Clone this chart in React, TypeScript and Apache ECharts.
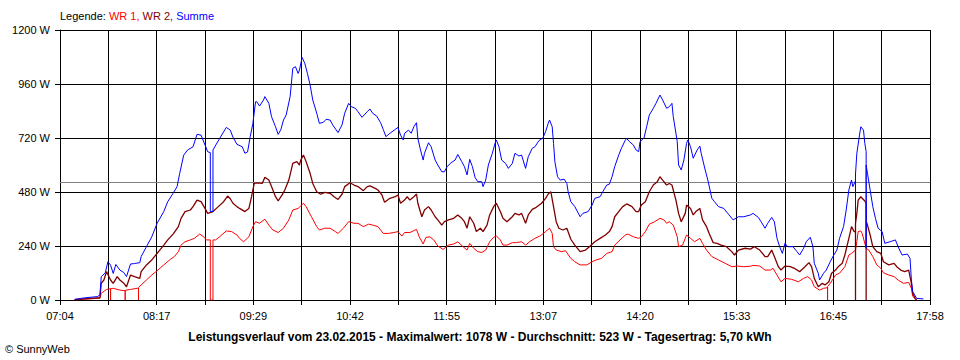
import React, { useEffect, useRef } from "react";
import * as echarts from "echarts";

const START_MIN = 424; // 07:04
const END_MIN = 1078; // 17:58
const DIVISIONS = 18;
const Y_MAX = 1200;
const Y_STEP = 240;
const AVERAGE = 523;
const TITLE = "Leistungsverlauf vom 23.02.2015 - Maximalwert: 1078 W - Durchschnitt: 523 W - Tagesertrag: 5,70 kWh";
const COPYRIGHT = "© SunnyWeb";
const seriesNames = ["WR 1", "WR 2", "Summe"];
const seriesColors = ["#ff0000", "#800000", "#0000ff"];

const summe: [string, number][] = [
  ["07:15",3],["07:23",10],["07:32",15],["07:34",22],["07:35",104],["07:38",120],["07:40",170],["07:42",155],["07:44",118],["07:46",158],["07:49",133],["07:52",122],["07:54",104],["07:57",160],["08:00",162],["08:04",166],["08:05",193],["08:09",237],["08:13",281],["08:17",341],["08:22",393],["08:25",437],["08:29",474],["08:32",504],["08:34",563],["08:37",644],["08:40",667],["08:44",681],["08:47",736],["08:50",733],["08:53",689],["08:55",659],["08:57",655],["08:57",393],["08:59",393],["08:59",667],["09:04",718],["09:09",767],["09:12",755],["09:14",724],["09:17",692],["09:21",681],["09:23",652],["09:25",658],["09:27",726],["09:29",785],["09:31",881],["09:32",881],["09:34",862],["09:37",889],["09:38",904],["09:41",874],["09:43",815],["09:46",770],["09:48",736],["09:50",757],["09:52",800],["09:54",822],["09:57",904],["09:59",1030],["10:01",1037],["10:03",1007],["10:04",1022],["10:06",1078],["10:08",1052],["10:10",1007],["10:12",956],["10:14",889],["10:17",830],["10:19",785],["10:22",790],["10:24",803],["10:27",800],["10:29",778],["10:33",744],["10:36",778],["10:38",830],["10:41",874],["10:43",859],["10:46",852],["10:48",837],["10:51",812],["10:55",837],["10:57",849],["10:59",830],["11:02",818],["11:05",788],["11:07",758],["11:09",726],["11:12",741],["11:16",758],["11:18",767],["11:20",733],["11:22",711],["11:23",741],["11:26",755],["11:28",741],["11:30",770],["11:32",788],["11:33",718],["11:35",667],["11:37",622],["11:38",652],["11:41",699],["11:43",681],["11:46",622],["11:48",600],["11:51",570],["11:53",570],["11:55",593],["11:58",610],["12:01",622],["12:03",647],["12:06",615],["12:08",593],["12:10",556],["12:12",625],["12:14",593],["12:16",545],["12:18",526],["12:21",526],["12:22",504],["12:24",533],["12:26",600],["12:29",652],["12:31",696],["12:32",711],["12:34",681],["12:36",622],["12:39",607],["12:41",585],["12:44",607],["12:46",652],["12:49",640],["12:51",644],["12:54",585],["12:56",637],["12:59",674],["13:01",681],["13:04",708],["13:07",720],["13:09",748],["13:11",785],["13:12",800],["13:14",770],["13:15",696],["13:16",615],["13:18",548],["13:20",533],["13:23",537],["13:25",518],["13:26",481],["13:28",437],["13:31",415],["13:35",370],["13:37",385],["13:41",393],["13:44",422],["13:46",452],["13:50",459],["13:52",481],["13:55",511],["13:57",515],["13:59",548],["14:01",593],["14:04",644],["14:06",674],["14:09",711],["14:10",718],["14:12",704],["14:15",689],["14:17",667],["14:19",659],["14:20",704],["14:23",720],["14:25",770],["14:27",822],["14:30",852],["14:32",874],["14:35",911],["14:37",889],["14:40",852],["14:42",859],["14:44",874],["14:45",815],["14:48",704],["14:49",600],["14:51",578],["14:53",622],["14:55",696],["14:56",711],["14:58",681],["15:00",630],["15:03",667],["15:05",684],["15:06",652],["15:09",578],["15:11",533],["15:14",452],["15:16",437],["15:19",415],["15:23",407],["15:26",385],["15:30",356],["15:34",370],["15:38",370],["15:43",378],["15:45",385],["15:49",367],["15:51",348],["15:54",319],["15:56",341],["15:59",367],["16:01",348],["16:03",274],["16:05",237],["16:07",207],["16:09",252],["16:11",237],["16:15",237],["16:18",215],["16:20",200],["16:23",230],["16:25",259],["16:28",279],["16:30",237],["16:31",163],["16:34",119],["16:35",89],["16:38",119],["16:40",133],["16:43",170],["16:45",193],["16:48",222],["16:50",274],["16:53",326],["16:55",400],["16:57",489],["16:59",533],["17:00",504],["17:02",530],["17:02",222],["17:02",560],["17:03",652],["17:05",733],["17:06",770],["17:08",755],["17:09",696],["17:10",660],["17:10",230],["17:10",600],["17:11",563],["17:13",489],["17:15",415],["17:17",363],["17:19",319],["17:22",304],["17:24",252],["17:28",259],["17:32",267],["17:34",237],["17:37",200],["17:41",204],["17:43",185],["17:44",89],["17:45",37],["17:48",7],["17:53",5]
];

const wr2: [string, number][] = [
  ["07:15",2],["07:34",10],["07:35",74],["07:37",89],["07:39",126],["07:42",89],["07:44",74],["07:47",104],["07:49",89],["07:52",74],["07:54",59],["07:57",111],["08:00",104],["08:04",96],["08:05",126],["08:09",156],["08:13",178],["08:17",207],["08:22",244],["08:25",267],["08:29",293],["08:33",326],["08:35",363],["08:38",393],["08:42",400],["08:44",415],["08:47",444],["08:50",437],["08:53",407],["08:55",385],["08:59",393],["09:03",415],["09:07",437],["09:10",462],["09:12",450],["09:14",430],["09:17",415],["09:19",407],["09:23",393],["09:26",407],["09:28",459],["09:30",518],["09:32",521],["09:36",518],["09:38",545],["09:41",533],["09:43",504],["09:46",459],["09:48",441],["09:51",467],["09:53",489],["09:56",533],["09:59",607],["10:02",615],["10:04",600],["10:05",622],["10:07",644],["10:09",615],["10:12",563],["10:14",518],["10:17",481],["10:20",470],["10:23",478],["10:27",474],["10:30",459],["10:33",447],["10:36",470],["10:38",504],["10:42",521],["10:45",511],["10:48",504],["10:52",486],["10:55",504],["10:57",507],["11:01",496],["11:03",489],["11:06",467],["11:08",434],["11:12",452],["11:16",459],["11:18",467],["11:20",430],["11:23",444],["11:25",459],["11:27",444],["11:30",459],["11:32",471],["11:33",430],["11:36",370],["11:38",400],["11:41",415],["11:43",400],["11:46",370],["11:48",356],["11:51",333],["11:53",348],["11:56",356],["12:00",363],["12:03",378],["12:06",363],["12:08",348],["12:10",319],["12:12",370],["12:15",341],["12:17",304],["12:20",319],["12:22",304],["12:25",333],["12:27",378],["12:30",415],["12:32",430],["12:35",393],["12:37",363],["12:40",348],["12:44",370],["12:46",385],["12:49",378],["12:51",385],["12:54",341],["12:56",378],["12:59",403],["13:02",412],["13:06",430],["13:09",452],["13:11",471],["13:13",481],["13:15",415],["13:17",348],["13:19",319],["13:22",311],["13:25",319],["13:28",270],["13:31",244],["13:35",215],["13:39",222],["13:42",237],["13:46",259],["13:50",274],["13:54",289],["13:57",304],["13:59",326],["14:01",370],["14:04",393],["14:07",415],["14:10",427],["14:14",415],["14:17",393],["14:19",393],["14:21",422],["14:24",437],["14:27",481],["14:30",511],["14:33",526],["14:35",548],["14:37",533],["14:40",511],["14:42",518],["14:44",511],["14:47",444],["14:49",385],["14:51",348],["14:54",385],["14:55",422],["14:58",407],["15:00",378],["15:02",393],["15:05",407],["15:07",356],["15:10",326],["15:12",296],["15:15",255],["15:18",252],["15:21",244],["15:25",237],["15:29",215],["15:31",200],["15:34",222],["15:39",230],["15:43",226],["15:46",237],["15:50",222],["15:54",193],["15:56",193],["15:59",222],["16:01",193],["16:04",148],["16:06",133],["16:09",151],["16:13",148],["16:16",141],["16:20",126],["16:24",148],["16:27",166],["16:29",148],["16:31",96],["16:34",59],["16:37",74],["16:39",67],["16:42",81],["16:44",119],["16:47",133],["16:49",148],["16:52",163],["16:54",200],["16:57",274],["16:59",326],["17:01",304],["17:02",304],["17:02",0],["17:02",340],["17:03",385],["17:04",444],["17:06",459],["17:07",452],["17:09",440],["17:10",430],["17:10",0],["17:10",350],["17:11",333],["17:13",289],["17:15",237],["17:18",215],["17:21",207],["17:23",170],["17:27",156],["17:31",163],["17:33",148],["17:36",133],["17:39",126],["17:42",133],["17:44",74],["17:45",30],["17:47",5],["17:48",2]
];

const wr1: [string, number][] = [
  ["07:15",1],["07:34",8],["07:35",30],["07:39",47],["07:42",50],["07:42",0],["07:42",50],["07:44",52],["07:49",44],["07:53",41],["07:53",0],["07:53",43],["07:57",47],["08:02",52],["08:03",52],["08:03",0],["08:03",55],["08:05",67],["08:09",89],["08:13",111],["08:17",130],["08:22",156],["08:27",181],["08:30",193],["08:33",215],["08:35",244],["08:38",259],["08:42",267],["08:45",274],["08:49",293],["08:52",281],["08:54",267],["08:57",267],["08:57",0],["08:59",0],["08:59",267],["09:01",267],["09:04",281],["09:09",307],["09:13",304],["09:17",289],["09:19",274],["09:22",259],["09:26",281],["09:29",326],["09:31",348],["09:34",341],["09:38",359],["09:41",333],["09:44",311],["09:48",300],["09:52",319],["09:56",356],["09:59",400],["10:03",407],["10:07",430],["10:09",415],["10:13",370],["10:17",326],["10:19",311],["10:23",319],["10:27",319],["10:31",304],["10:33",296],["10:37",319],["10:41",348],["10:45",341],["10:48",341],["10:52",326],["10:56",337],["10:59",333],["11:03",326],["11:07",296],["11:11",296],["11:15",300],["11:18",304],["11:21",284],["11:23",300],["11:27",300],["11:32",314],["11:34",281],["11:37",249],["11:39",278],["11:42",281],["11:45",267],["11:48",240],["11:52",225],["11:56",244],["12:00",249],["12:03",259],["12:07",237],["12:10",222],["12:12",252],["12:15",230],["12:18",215],["12:21",211],["12:24",222],["12:27",259],["12:30",279],["12:32",285],["12:35",267],["12:37",244],["12:40",244],["12:44",255],["12:47",255],["12:51",259],["12:54",244],["12:57",259],["13:01",274],["13:05",285],["13:09",304],["13:12",319],["13:14",296],["13:15",237],["13:17",222],["13:21",215],["13:24",219],["13:28",185],["13:31",170],["13:35",156],["13:40",156],["13:44",170],["13:47",178],["13:51",185],["13:55",207],["13:59",215],["14:01",244],["14:05",267],["14:09",289],["14:11",293],["14:15",281],["14:19",274],["14:21",281],["14:24",304],["14:27",337],["14:31",348],["14:35",363],["14:38",356],["14:40",341],["14:42",348],["14:45",333],["14:48",281],["14:49",237],["14:52",244],["14:54",274],["14:55",289],["14:58",274],["15:01",259],["15:05",274],["15:07",252],["15:10",222],["15:14",193],["15:19",178],["15:24",163],["15:29",148],["15:33",151],["15:38",148],["15:43",150],["15:45",154],["15:50",151],["15:54",133],["15:58",133],["16:00",141],["16:03",111],["16:06",81],["16:09",96],["16:14",92],["16:19",81],["16:23",96],["16:26",104],["16:29",89],["16:31",59],["16:35",44],["16:38",52],["16:41",55],["16:41",0],["16:41",60],["16:43",74],["16:47",111],["16:50",119],["16:54",148],["16:57",200],["16:59",207],["17:02",222],["17:03",259],["17:04",304],["17:06",307],["17:07",296],["17:10",230],["17:12",222],["17:15",193],["17:18",156],["17:21",141],["17:23",121],["17:27",111],["17:31",104],["17:34",89],["17:38",74],["17:42",78],["17:44",52],["17:45",16],["17:47",5],["17:48",1]
];

const FONT = '"Liberation Sans", Arial, sans-serif';
const MIN_PER_DIV = (END_MIN - START_MIN) / DIVISIONS;

function toX(t: string): number {
  const [h, m] = t.split(":").map(Number);
  return (h * 60 + m - START_MIN) / MIN_PER_DIV;
}

function pad(n: number): string {
  return n < 10 ? "0" + n : String(n);
}

function xLabel(v: number): string {
  const i = Math.round(v);
  if (i % 2 !== 0) return "";
  const mins = Math.round(START_MIN + i * MIN_PER_DIV);
  return pad(Math.floor(mins / 60)) + ":" + pad(mins % 60);
}

export default function App() {
  const ref = useRef<HTMLDivElement>(null);
  useEffect(() => {
    if (!ref.current) return;
    const chart = echarts.init(ref.current, undefined, { renderer: "svg" });
    const toData = (arr: [string, number][]) => arr.map(([t, v]) => [toX(t), v]);
    const datasets = [wr1, wr2, summe];
    chart.setOption({
      animation: false,
      backgroundColor: "#ffffff",
      grid: { left: 60, right: 30, top: 30, bottom: 60 },
      xAxis: {
        type: "value",
        min: 0,
        max: DIVISIONS,
        interval: 1,
        axisLine: { show: true, lineStyle: { color: "#000", width: 1 } },
        axisTick: { show: true, length: 5, lineStyle: { color: "#000" } },
        axisLabel: { formatter: xLabel, color: "#000", fontFamily: FONT, fontSize: 11, margin: 10 },
        splitLine: { show: true, lineStyle: { color: "#000", width: 1 } },
      },
      yAxis: {
        type: "value",
        min: 0,
        max: Y_MAX,
        interval: Y_STEP,
        axisLine: { show: true, lineStyle: { color: "#000", width: 1 } },
        axisTick: { show: true, length: 5, lineStyle: { color: "#000" } },
        axisLabel: {
          formatter: (v: number) => String(v) + " W",
          color: "#000",
          fontFamily: FONT,
          fontSize: 11,
          margin: 10,
        },
        splitLine: { show: true, lineStyle: { color: "#000", width: 1 } },
      },
      series: datasets.map((d, i) => ({
        name: seriesNames[i],
        type: "line",
        data: toData(d),
        showSymbol: false,
        symbol: "none",
        lineStyle: { color: seriesColors[i], width: i === 1 ? 1.3 : 1 },
        itemStyle: { color: seriesColors[i] },
        z: 3 + i,
        markLine: i === 2 ? {
          silent: true,
          symbol: "none",
          label: { show: false },
          lineStyle: { color: "#808080", type: "solid", width: 1 },
          data: [{ yAxis: AVERAGE }],
          z: 1,
        } : undefined,
      })),
      graphic: [
        {
          type: "text",
          x: 60,
          y: 16,
          style: {
            text: "{k|Legende: }{a|" + seriesNames[0] + ",} {b|" + seriesNames[1] + ",} {c|" + seriesNames[2] + "}",
            font: "11px " + FONT,
            fill: "#000",
            textVerticalAlign: "middle",
            rich: {
              k: { fill: "#000", fontSize: 11, fontFamily: FONT },
              a: { fill: seriesColors[0], fontSize: 11, fontFamily: FONT },
              b: { fill: seriesColors[1], fontSize: 11, fontFamily: FONT },
              c: { fill: seriesColors[2], fontSize: 11, fontFamily: FONT },
            },
          },
        },
        {
          type: "text",
          x: 480,
          y: 337,
          style: {
            text: TITLE,
            font: "bold 12px " + FONT,
            fill: "#000",
            textAlign: "center",
            textVerticalAlign: "middle",
          },
        },
        {
          type: "text",
          x: 5,
          y: 349,
          style: {
            text: COPYRIGHT,
            font: "11px " + FONT,
            fill: "#000",
            textVerticalAlign: "middle",
          },
        },
      ],
    });
    return () => chart.dispose();
  }, []);
  return (
    <div
      ref={ref}
      style={{ position: "absolute", left: 0, top: 0, width: 960, height: 360 }}
    />
  );
}
